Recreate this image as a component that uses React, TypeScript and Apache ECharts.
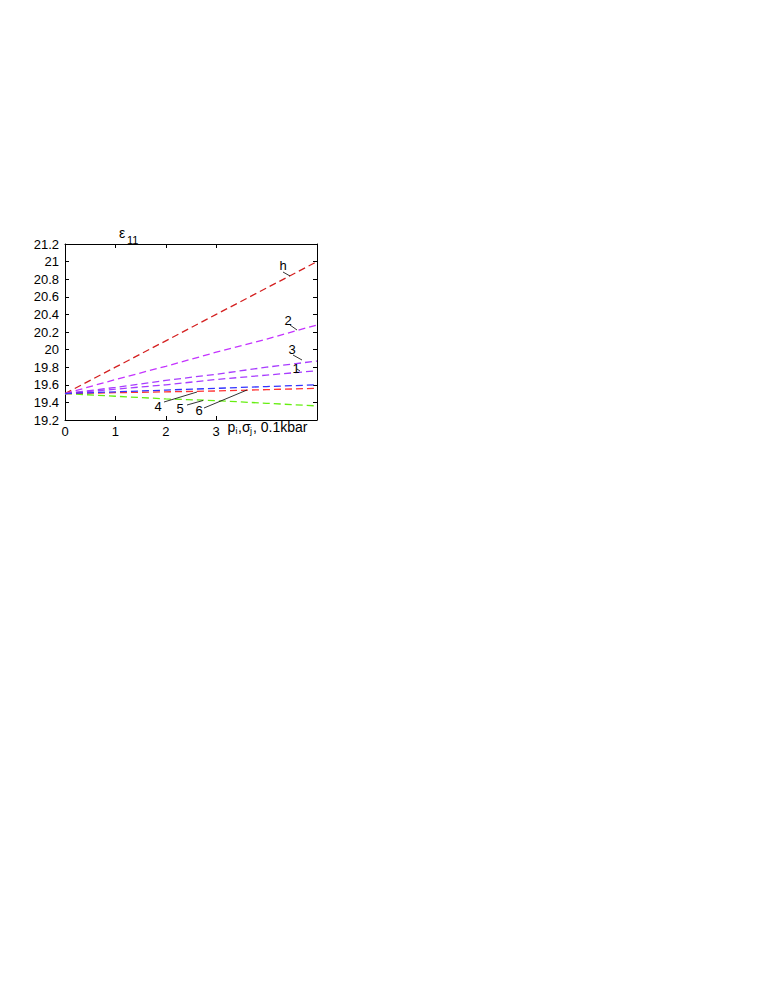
import React, { useEffect, useRef } from "react";
import * as echarts from "echarts";

const xValues = [0, 1, 2, 3, 4, 5];
const seriesH = [19.5, 19.8, 20.1, 20.4, 20.7, 21.0];
const series2 = [19.5, 19.66, 19.81, 19.97, 20.12, 20.28];
const series3 = [19.5, 19.57, 19.65, 19.72, 19.8, 19.87];
const series1 = [19.5, 19.55, 19.6, 19.66, 19.71, 19.76];
const series4 = [19.5, 19.52, 19.54, 19.56, 19.58, 19.6];
const series6 = [19.5, 19.51, 19.52, 19.53, 19.545, 19.56];
const series5 = [19.5, 19.47, 19.44, 19.42, 19.39, 19.36];
const xTickValues = [0, 1, 2, 3];

const FONT = "Liberation Sans, Arial, Helvetica, sans-serif";

function mk(name: string, ys: number[], color: string) {
  return {
    name,
    type: "line",
    data: xValues.map((x, i) => [x, ys[i]]),
    showSymbol: false,
    symbol: "none",
    lineStyle: { color, width: 1.3, type: [7, 4] },
    z: 3,
  };
}

export default function App() {
  const ref = useRef<HTMLDivElement>(null);
  useEffect(() => {
    const chart = echarts.init(ref.current!, null, { renderer: "svg" });
    const txt = (x: number, y: number, text: string, size = 13, align = "left") => ({
      type: "text",
      x,
      y,
      style: { text, fontSize: size, fontFamily: FONT, fill: "#000", align, verticalAlign: "middle" },
      z: 10,
    });
    const ln = (x1: number, y1: number, x2: number, y2: number) => ({
      type: "line",
      shape: { x1, y1, x2, y2 },
      style: { stroke: "#000", lineWidth: 0.8 },
      z: 10,
    });
    chart.setOption({
      animation: false,
      grid: { left: 65, top: 244, width: 252, height: 176, containLabel: false },
      xAxis: [
        {
          type: "value",
          min: 0,
          max: 5,
          interval: 1,
          position: "bottom",
          axisLine: { show: true, onZero: false, lineStyle: { color: "#000", width: 1 } },
          axisTick: { show: true, inside: true, length: 4, customValues: xTickValues, lineStyle: { color: "#000" } },
          axisLabel: { customValues: xTickValues, fontSize: 13, fontFamily: FONT, color: "#000", margin: 5 },
          splitLine: { show: false },
        },
        {
          type: "value",
          min: 0,
          max: 5,
          interval: 1,
          position: "top",
          axisLine: { show: true, onZero: false, lineStyle: { color: "#000", width: 1 } },
          axisTick: { show: true, inside: true, length: 4, customValues: xTickValues, lineStyle: { color: "#000" } },
          axisLabel: { show: false },
          splitLine: { show: false },
        },
      ],
      yAxis: [
        {
          type: "value",
          min: 19.2,
          max: 21.2,
          interval: 0.2,
          position: "left",
          axisLine: { show: true, onZero: false, lineStyle: { color: "#000", width: 1 } },
          axisTick: { show: true, inside: true, length: 4, lineStyle: { color: "#000" } },
          axisLabel: {
            fontSize: 13,
            fontFamily: FONT,
            color: "#000",
            margin: 6,
            formatter: (v: number) => String(+v.toFixed(1)),
          },
          splitLine: { show: false },
        },
        {
          type: "value",
          min: 19.2,
          max: 21.2,
          interval: 0.2,
          position: "right",
          axisLine: { show: true, onZero: false, lineStyle: { color: "#000", width: 1 } },
          axisTick: { show: true, inside: true, length: 4, lineStyle: { color: "#000" } },
          axisLabel: { show: false },
          splitLine: { show: false },
        },
      ],
      series: [
        mk("h", seriesH, "#d42020"),
        mk("2", series2, "#c433ff"),
        mk("3", series3, "#a83cff"),
        mk("1", series1, "#a83cff"),
        mk("5", series5, "#66ee11"),
        mk("6", series6, "#ff3333"),
        mk("4", series4, "#3333ff"),
      ],
      graphic: [
        txt(119, 233, "ε", 14),
        txt(127, 239.5, "11", 11),
        txt(227.5, 427, "p", 14),
        txt(235.5, 431, "i", 9),
        txt(238, 427, ",σ", 14),
        txt(250, 431, "j", 9),
        txt(253, 427, ", 0.1kbar", 14),
        txt(283, 265, "h", 13, "center"),
        ln(283, 272, 290, 276),
        txt(288, 320, "2", 13, "center"),
        ln(290, 325, 297, 330),
        txt(292, 349, "3", 13, "center"),
        ln(293, 355, 302, 360),
        txt(296, 368, "1", 13, "center"),
        ln(297, 369, 300, 371),
        txt(158, 406, "4", 13, "center"),
        ln(164, 402, 197, 392),
        txt(180, 408, "5", 13, "center"),
        ln(187, 405, 203, 400.5),
        txt(199, 410, "6", 13, "center"),
        ln(204, 408, 247, 390),
      ],
    });
    return () => chart.dispose();
  }, []);
  return (
    <div
      ref={ref}
      style={{ position: "fixed", left: 0, top: 0, width: 777, height: 1005, background: "#fff" }}
    />
  );
}
